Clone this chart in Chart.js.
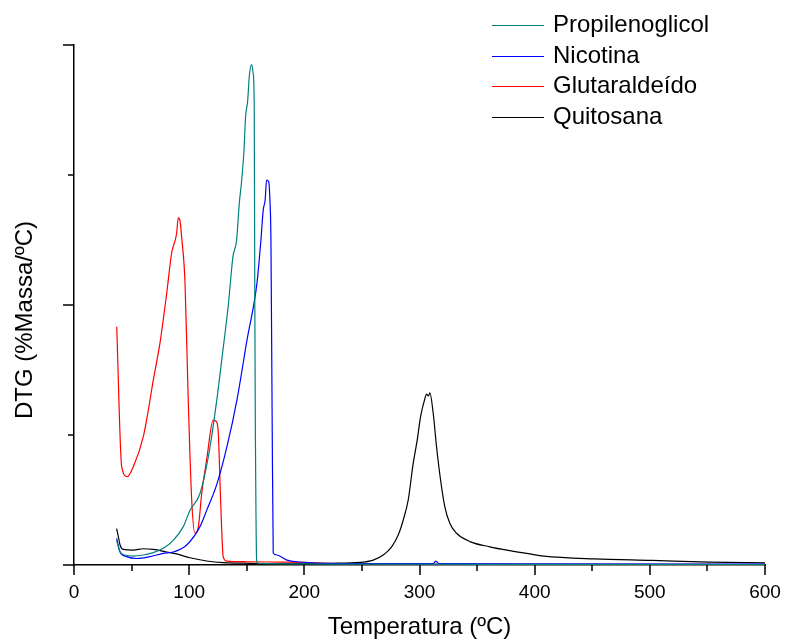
<!DOCTYPE html>
<html>
<head>
<meta charset="utf-8">
<script src="https://cdn.jsdelivr.net/npm/chart.js@4.4.0/dist/chart.umd.min.js"></script>
<style>
  html, body { margin: 0; padding: 0; background: #fff; }
  #wrap { width: 785px; height: 642px; }
</style>
</head>
<body>
<div id="wrap"><canvas id="myChart" width="785" height="642"></canvas></div>
<script>
// series labels and colours
const labels = ["Propilenoglicol", "Nicotina", "Glutaraldeído", "Quitosana"];
const colors = ["#008080", "#0000ff", "#ff0000", "#000000"];

// x tick labels
const xTicks = [0, 100, 200, 300, 400, 500, 600];

// Propilenoglicol
const propTemp = [37, 40, 44.3, 51.5, 60.2, 68.8, 77.5, 86.2, 94.9, 100.7, 109.4, 117, 124, 129, 134, 138, 141.2, 143.5, 145.6, 147.6, 149, 150.8, 152.2, 154.2, 155.6, 156.5, 157, 157.5, 158, 158.6, 160, 200, 250, 400, 600];
const propDtg = [0.19, 0.10, 0.077, 0.069, 0.077, 0.095, 0.128, 0.19, 0.295, 0.42, 0.55, 0.85, 1.27, 1.63, 2.0, 2.37, 2.5, 2.78, 2.96, 3.19, 3.45, 3.57, 3.76, 3.85, 3.78, 3.53, 2.0, 1.0, 0.4, 0.03, 0.012, 0.008, 0.006, 0.005, 0.004];

// Nicotina
const nicTemp = [37, 40, 45.7, 54.4, 66, 77.5, 86.2, 97.8, 109.4, 115.2, 124, 132.8, 141.5, 150.2, 158.9, 162.3, 164.3, 166, 167.2, 169, 170.1, 171, 172, 173, 176.2, 184.9, 196, 210, 250, 312, 314, 317, 400, 600];
const nicDtg = [0.205, 0.10, 0.064, 0.05, 0.064, 0.09, 0.10, 0.154, 0.295, 0.42, 0.62, 0.91, 1.27, 1.73, 2.17, 2.5, 2.73, 2.81, 2.96, 2.95, 2.81, 2.5, 1.2, 0.092, 0.077, 0.038, 0.023, 0.015, 0.01, 0.01, 0.03, 0.01, 0.008, 0.006];

// Glutaraldeido
const gluTemp = [37.1, 41.4, 46.3, 51.5, 60.2, 64.5, 68.8, 74.7, 80.5, 84.8, 89.1, 90.5, 92, 93.5, 96.4, 99.2, 102.2, 105, 107.9, 110.9, 115.2, 120.9, 123.9, 125.3, 127.3, 129.6, 132.6, 150, 180, 200, 220, 250, 300, 400, 600];
const gluDtg = [1.833, 0.756, 0.679, 0.756, 0.987, 1.19, 1.42, 1.71, 2.09, 2.40, 2.55, 2.67, 2.65, 2.52, 2.17, 1.27, 0.5, 0.246, 0.29, 0.55, 0.81, 1.115, 1.10, 1.015, 0.5, 0.06, 0.03, 0.025, 0.022, 0.02, 0.012, 0.008, 0.006, 0.005, 0.004];

// Quitosana
const quiTemp = [37, 38.5, 40, 42.8, 51.5, 60.2, 68.8, 80.5, 89.1, 100.7, 115.2, 129.6, 152.8, 180, 200, 222.2, 248.3, 259.8, 268.5, 275.8, 281.5, 285.9, 290.2, 294.5, 298, 300.9, 304.7, 306.1, 307.8, 309, 311.9, 314.8, 318.3, 322, 326.4, 332.2, 343.8, 361, 378.5, 395.8, 408, 452, 501.7, 551.6, 600];
const quiDtg = [0.28, 0.218, 0.154, 0.12, 0.115, 0.125, 0.12, 0.10, 0.085, 0.056, 0.031, 0.018, 0.013, 0.01, 0.01, 0.013, 0.02, 0.038, 0.077, 0.14, 0.23, 0.346, 0.5, 0.78, 0.96, 1.14, 1.28, 1.315, 1.30, 1.325, 1.167, 0.91, 0.654, 0.448, 0.32, 0.244, 0.18, 0.14, 0.11, 0.085, 0.069, 0.047, 0.035, 0.022, 0.016];

const temps = [propTemp, nicTemp, gluTemp, quiTemp];
const dtgs = [propDtg, nicDtg, gluDtg, quiDtg];

const FONT = "'Liberation Sans', Arial, sans-serif";

// tick marks of different lengths, y title and legend at top right
const decorPlugin = {
  id: "decor",
  afterDraw(chart) {
    const { ctx, scales: { x, y } } = chart;
    ctx.save();
    ctx.strokeStyle = "#000";
    ctx.lineWidth = 1.5;
    for (let v = 0; v <= 600; v += 50) {
      const px = Math.round(x.getPixelForValue(v));
      const len = v % 100 === 0 ? 10 : 6;
      ctx.beginPath();
      ctx.moveTo(px, y.bottom);
      ctx.lineTo(px, y.bottom + len);
      ctx.stroke();
    }
    for (let v = 0; v <= 4; v += 1) {
      const py = Math.round(y.getPixelForValue(v));
      const len = v % 2 === 0 ? 11 : 6;
      ctx.beginPath();
      ctx.moveTo(x.left, py);
      ctx.lineTo(x.left - len, py);
      ctx.stroke();
    }
    // y axis title (sits a bit below the axis middle in the original)
    ctx.save();
    ctx.translate(25, 320);
    ctx.rotate(-Math.PI / 2);
    ctx.font = "24px " + FONT;
    ctx.textAlign = "center";
    ctx.textBaseline = "middle";
    ctx.fillStyle = "#000";
    ctx.fillText("DTG (%Massa/ºC)", 0, 0);
    ctx.restore();
    // legend
    ctx.font = "24px " + FONT;
    ctx.textBaseline = "middle";
    ctx.fillStyle = "#000";
    chart.data.datasets.forEach((ds, i) => {
      const ly = Math.round(25 + i * 30.5) + 0.5;
      ctx.strokeStyle = ds.borderColor;
      ctx.lineWidth = 1;
      ctx.beginPath();
      ctx.moveTo(492, ly);
      ctx.lineTo(544, ly);
      ctx.stroke();
      ctx.fillText(ds.label, 553, ly);
    });
    ctx.restore();
  }
};

const ctx = document.getElementById("myChart");
new Chart(ctx, {
  type: "line",
  data: {
    datasets: labels.map((name, i) => ({
      label: name,
      data: temps[i].map((t, k) => ({ x: t, y: dtgs[i][k] })),
      borderColor: colors[i],
      borderWidth: 1.2,
      pointRadius: 0,
      cubicInterpolationMode: "monotone",
      fill: false,
    })),
  },
  options: {
    responsive: false,
    animation: false,
    layout: { padding: { left: 0, right: 20, top: 45, bottom: 0 } },
    plugins: {
      legend: { display: false },
      tooltip: { enabled: false },
    },
    scales: {
      x: {
        type: "linear",
        min: 0,
        max: 600,
        afterFit: (s) => { s.height = 77; s.paddingLeft = 0; s.paddingRight = 0; },
        afterBuildTicks: (s) => { s.ticks = xTicks.map((v) => ({ value: v })); },
        ticks: {
          color: "#000",
          padding: 16,
          maxRotation: 0,
          font: { family: FONT, size: 19 },
        },
        grid: { display: false, drawTicks: false },
        border: { display: true, color: "#000", width: 1.5 },
        title: {
          display: true,
          text: "Temperatura (ºC)",
          color: "#000",
          padding: { top: 0, bottom: 0 },
          font: { family: FONT, size: 24 },
        },
      },
      y: {
        type: "linear",
        min: 0,
        max: 4,
        afterFit: (s) => { s.width = 74; s.paddingTop = 0; s.paddingBottom = 0; },
        ticks: { display: false, stepSize: 1 },
        grid: { display: false, drawTicks: false },
        border: { display: true, color: "#000", width: 1.5 },
        title: { display: false },
      },
    },
  },
  plugins: [decorPlugin],
});
</script>
</body>
</html>
